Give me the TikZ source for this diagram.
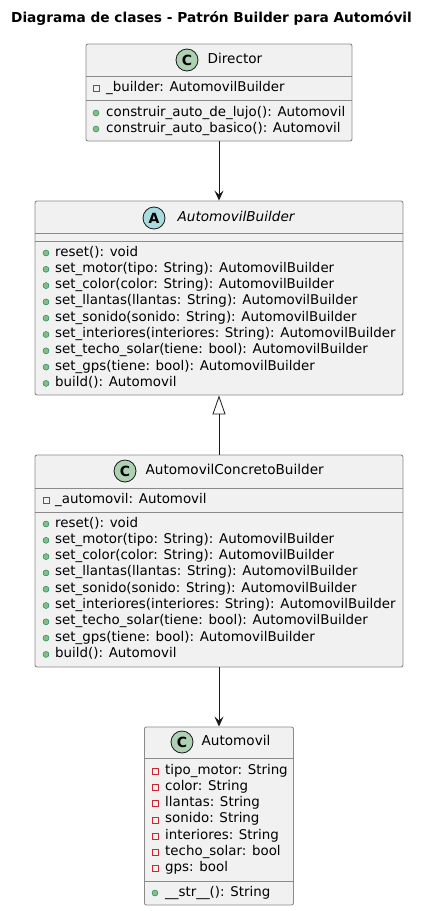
\documentclass[tikz,border=0pt]{standalone}
\usepackage{fontspec}
\setmainfont{DejaVu Sans}
\usetikzlibrary{arrows.meta,positioning}

\definecolor{boxfill}{HTML}{F1F1F1}
\definecolor{boxline}{HTML}{8A8A8A}
\definecolor{arrowline}{HTML}{181818}
\definecolor{cicon}{HTML}{ADD1B2}
\definecolor{aicon}{HTML}{A9DCDF}
\definecolor{pubfill}{HTML}{84BE84}
\definecolor{publine}{HTML}{038048}
\definecolor{privline}{HTML}{C82930}

\newcommand{\membfont}{\fontsize{13.4}{15}\selectfont}
\newcommand{\namefont}{\fontsize{13.6}{15}\selectfont}

\tikzset{
  classbox/.style={draw=boxline,fill=boxfill,line width=0.9pt,rounded corners=2pt,inner sep=0pt},
  sepline/.style={draw=boxline,line width=0.9pt},
  member/.style={anchor=west,inner sep=0pt,text height=9pt,text depth=3pt,font=\membfont},
  classname/.style={anchor=west,inner sep=0pt,text height=9.5pt,text depth=3pt,font=\namefont},
  classicon/.style={circle,draw=arrowline,line width=0.8pt,minimum size=22pt,inner sep=0pt,font=\fontsize{14}{14}\selectfont\bfseries},
  pub/.style={circle,fill=pubfill,draw=publine,line width=0.4pt,minimum size=6pt,inner sep=0pt},
  priv/.style={rectangle,draw=privline,line width=0.8pt,minimum size=6pt,inner sep=0pt},
  uses/.style={draw=arrowline,line width=1pt,-{Stealth[length=10pt,width=9pt,inset=4pt]}},
  inherits/.style={draw=arrowline,line width=1pt,-{Triangle[open,length=19pt,width=13pt,line width=0.8pt]}}
}

\begin{document}
\begin{tikzpicture}[x=1pt,y=-1pt]
\useasboundingbox (0,0) rectangle (431,911);
\node[font=\fontsize{13.7}{15}\selectfont\bfseries,inner sep=0pt] (title) at (211.5,18) {Diagrama de clases - Patrón Builder para Automóvil};

% Director
\node[classbox,minimum width=266pt,minimum height=97pt] (director) at (219,92.5) {};
\draw[sepline] (86,76) -- (352,76);
\draw[sepline] (86,100) -- (352,100);
\node[classicon,fill=cicon] (dIcon) at (187,60) {C};
\node[classname,right=9pt of dIcon] (dName) {Director};
\node[priv] at (96,88) {};
\node[member] at (106,88) {\_builder: AutomovilBuilder};
\node[pub] at (96,113) {};
\node[member] at (106,113) {construir\_auto\_de\_lujo(): Automovil};
\node[pub] at (96,129) {};
\node[member] at (106,129) {construir\_auto\_basico(): Automovil};

% AutomovilBuilder
\node[classbox,minimum width=368pt,minimum height=194pt] (builder) at (219,298) {};
\draw[sepline] (35,233) -- (403,233);
\draw[sepline] (35,241) -- (403,241);
\node[classicon,fill=aicon] (bIcon) at (154,218) {A};
\node[classname,right=12pt of bIcon] (bName) {\itshape AutomovilBuilder};
\node[pub] at (46,253) {};
\node[member] at (55,253) {reset(): void};
\node[pub] at (46,269.3) {};
\node[member] at (55,269.3) {set\_motor(tipo: String): AutomovilBuilder};
\node[pub] at (46,285.6) {};
\node[member] at (55,285.6) {set\_color(color: String): AutomovilBuilder};
\node[pub] at (46,301.9) {};
\node[member] at (55,301.9) {set\_llantas(llantas: String): AutomovilBuilder};
\node[pub] at (46,318.2) {};
\node[member] at (55,318.2) {set\_sonido(sonido: String): AutomovilBuilder};
\node[pub] at (46,334.5) {};
\node[member] at (55,334.5) {set\_interiores(interiores: String): AutomovilBuilder};
\node[pub] at (46,350.8) {};
\node[member] at (55,350.8) {set\_techo\_solar(tiene: bool): AutomovilBuilder};
\node[pub] at (46,367.1) {};
\node[member] at (55,367.1) {set\_gps(tiene: bool): AutomovilBuilder};
\node[pub] at (46,383.4) {};
\node[member] at (55,383.4) {build(): Automovil};

% AutomovilConcretoBuilder
\node[classbox,minimum width=368pt,minimum height=212pt] (concrete) at (219,561) {};
\draw[sepline] (35,488) -- (403,488);
\draw[sepline] (35,512) -- (403,512);
\node[classicon,fill=cicon] (cIcon) at (125,471) {C};
\node[classname,right=9pt of cIcon] (cName) {AutomovilConcretoBuilder};
\node[priv] at (46,500) {};
\node[member] at (55,500) {\_automovil: Automovil};
\node[pub] at (46,524) {};
\node[member] at (55,524) {reset(): void};
\node[pub] at (46,540.3) {};
\node[member] at (55,540.3) {set\_motor(tipo: String): AutomovilBuilder};
\node[pub] at (46,556.6) {};
\node[member] at (55,556.6) {set\_color(color: String): AutomovilBuilder};
\node[pub] at (46,572.9) {};
\node[member] at (55,572.9) {set\_llantas(llantas: String): AutomovilBuilder};
\node[pub] at (46,589.2) {};
\node[member] at (55,589.2) {set\_sonido(sonido: String): AutomovilBuilder};
\node[pub] at (46,605.5) {};
\node[member] at (55,605.5) {set\_interiores(interiores: String): AutomovilBuilder};
\node[pub] at (46,621.8) {};
\node[member] at (55,621.8) {set\_techo\_solar(tiene: bool): AutomovilBuilder};
\node[pub] at (46,638.1) {};
\node[member] at (55,638.1) {set\_gps(tiene: bool): AutomovilBuilder};
\node[pub] at (46,654.4) {};
\node[member] at (55,654.4) {build(): Automovil};

% Automovil
\node[classbox,minimum width=149pt,minimum height=178pt] (auto) at (219,816) {};
\draw[sepline] (144.5,758) -- (293.5,758);
\draw[sepline] (144.5,881) -- (293.5,881);
\node[classicon,fill=cicon] (aIcon) at (182,742) {C};
\node[classname,right=8pt of aIcon] (aName) {Automovil};
\node[priv] at (155,771) {};
\node[member] at (165,771) {tipo\_motor: String};
\node[priv] at (155,787.3) {};
\node[member] at (165,787.3) {color: String};
\node[priv] at (155,803.6) {};
\node[member] at (165,803.6) {llantas: String};
\node[priv] at (155,819.9) {};
\node[member] at (165,819.9) {sonido: String};
\node[priv] at (155,836.2) {};
\node[member] at (165,836.2) {interiores: String};
\node[priv] at (155,852.5) {};
\node[member] at (165,852.5) {techo\_solar: bool};
\node[priv] at (155,868.8) {};
\node[member] at (165,868.8) {gps: bool};
\node[pub] at (155,893) {};
\node[member] at (165,893) {\_\_str\_\_(): String};

% relations
\draw[uses] (director.south) -- (builder.north);
\draw[inherits] (concrete.north) -- (builder.south);
\draw[uses] (concrete.south) -- (auto.north);
\end{tikzpicture}
\end{document}
